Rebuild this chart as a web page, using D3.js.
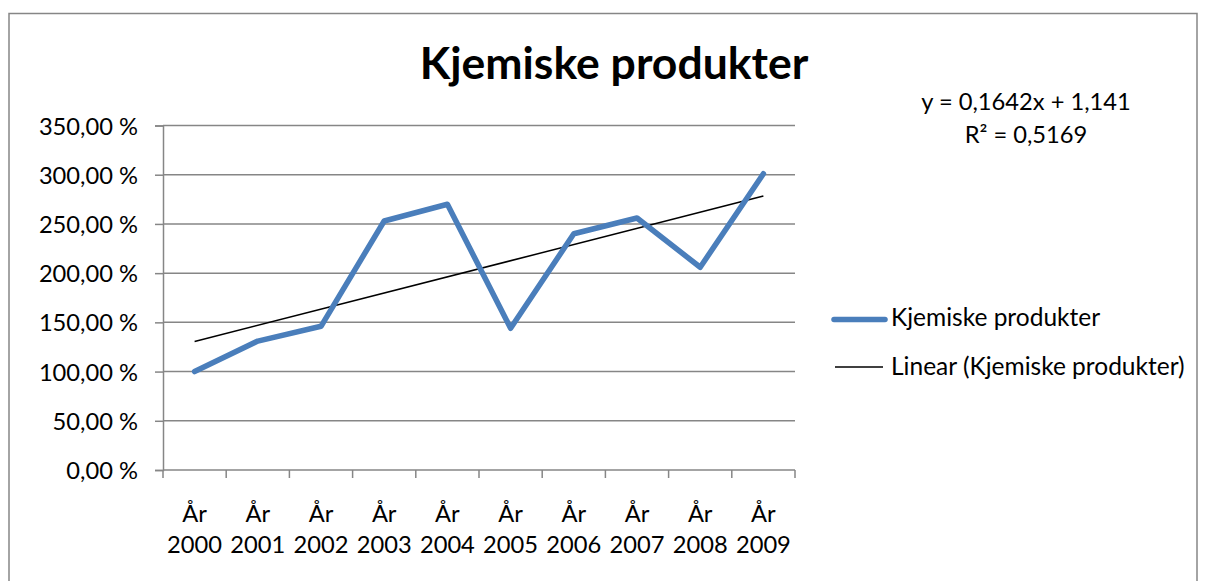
<!DOCTYPE html>
<html>
<head>
<meta charset="utf-8">
<script src="https://cdn.jsdelivr.net/npm/d3@7"></script>
<style>
  body { margin: 0; background: #fff; }
  text { font-family: Lato, "Open Sans", sans-serif; fill: #000; }
</style>
</head>
<body>
<svg id="chart"></svg>
<script>
const width = 1206;
const height = 581;

// data
const years = ['2000', '2001', '2002', '2003', '2004', '2005', '2006', '2007', '2008', '2009'];
const values = [1.00, 1.31, 1.46, 2.53, 2.70, 1.44, 2.40, 2.56, 2.06, 3.01];
const yTicks = [0, 0.5, 1, 1.5, 2, 2.5, 3, 3.5];
const trendSlope = 0.1642;
const trendIntercept = 1.141;
const trendR2 = 0.5169;
const seriesName = 'Kjemiske produkter';

const plot = { left: 163, right: 795, top: 125.5, bottom: 470 };
const fontSize = 23.7;

const svg = d3.select('svg#chart').attr('width', width).attr('height', height);

// outer chart border
svg.append('rect')
    .attr('x', 9).attr('y', 13.5)
    .attr('width', 1188).attr('height', 600)
    .attr('fill', 'none')
    .attr('stroke', '#868686')
    .attr('stroke-width', 1.5);

const x = d3.scaleBand().domain(years).range([plot.left, plot.right]);
const y = d3.scaleLinear().domain([0, 3.5]).range([plot.bottom, plot.top]);

const fmt = v => d3.format('.2f')(v * 100).replace('.', ',') + ' %';

// y axis
const yAxis = svg.append('g')
    .attr('transform', 'translate(' + plot.left + ',0)')
    .call(d3.axisLeft(y).tickValues(yTicks).tickSize(8).tickPadding(10).tickFormat(fmt));
yAxis.select('.domain').attr('stroke', '#868686').attr('stroke-width', 1.5);
yAxis.selectAll('.tick line').attr('stroke', '#868686').attr('stroke-width', 1.5);
yAxis.selectAll('.tick text')
    .attr('font-size', fontSize)
    .attr('font-family', 'Lato, sans-serif')
    .attr('dx', -7)
    .attr('dy', '0.36em')
    .attr('fill', '#000');

// gridlines
svg.append('g').selectAll('line')
    .data(yTicks.filter(d => d > 0))
    .join('line')
    .attr('x1', plot.left).attr('x2', plot.right)
    .attr('y1', d => y(d)).attr('y2', d => y(d))
    .attr('stroke', '#868686')
    .attr('stroke-width', 1.5);

// x axis
svg.append('line')
    .attr('x1', plot.left).attr('x2', plot.right)
    .attr('y1', plot.bottom).attr('y2', plot.bottom)
    .attr('stroke', '#868686').attr('stroke-width', 1.5);

const tickXs = years.map(d => x(d)).concat([plot.right]);
svg.append('g').selectAll('line')
    .data(tickXs)
    .join('line')
    .attr('x1', d => d).attr('x2', d => d)
    .attr('y1', plot.bottom).attr('y2', plot.bottom + 8)
    .attr('stroke', '#868686').attr('stroke-width', 1.5);

const cx = d => x(d) + x.bandwidth() / 2;

const xLabels = svg.append('g').selectAll('text')
    .data(years)
    .join('text')
    .attr('text-anchor', 'middle')
    .attr('font-size', fontSize);
xLabels.append('tspan')
    .attr('x', d => cx(d))
    .attr('y', 522)
    .text('År');
xLabels.append('tspan')
    .attr('x', d => cx(d))
    .attr('y', 553)
    .text(d => d);

// trendline
const trendPts = [years[0], years[years.length - 1]].map(d => ({
    year: d,
    v: trendSlope * (years.indexOf(d) + 1) + trendIntercept
}));
svg.append('path')
    .datum(trendPts)
    .attr('fill', 'none')
    .attr('stroke', '#000')
    .attr('stroke-width', 1.5)
    .attr('d', d3.line().x(d => cx(d.year)).y(d => y(d.v)));

// series line
svg.append('path')
    .datum(values)
    .attr('fill', 'none')
    .attr('stroke', '#4a7ebb')
    .attr('stroke-width', 5.5)
    .attr('stroke-linejoin', 'round')
    .attr('stroke-linecap', 'round')
    .attr('d', d3.line().x((d, i) => cx(years[i])).y(d => y(d)));

// title
svg.append('text')
    .attr('x', 614).attr('y', 79)
    .attr('text-anchor', 'middle')
    .attr('font-size', 44.5)
    .attr('font-weight', 'bold')
    .text(seriesName);

// equation
const eq = svg.append('g').attr('font-size', fontSize).attr('text-anchor', 'middle');
eq.append('text').attr('x', 1026).attr('y', 110)
    .text('y = ' + String(trendSlope).replace('.', ',') + 'x + ' + String(trendIntercept).replace('.', ','));
eq.append('text').attr('x', 1026).attr('y', 143)
    .text('R² = ' + String(trendR2).replace('.', ','));

// legend
const legend = [
    { name: seriesName, color: '#4a7ebb', w: 5.5, y: 319.5, ty: 326 },
    { name: 'Linear (' + seriesName + ')', color: '#000', w: 1.5, y: 367, ty: 375 }
];
const lg = svg.append('g').selectAll('g').data(legend).join('g');
lg.append('line')
    .attr('x1', d => d.w > 2 ? 834 : 835)
    .attr('x2', d => d.w > 2 ? 885 : 883)
    .attr('y1', d => d.y).attr('y2', d => d.y)
    .attr('stroke', d => d.color)
    .attr('stroke-width', d => d.w)
    .attr('stroke-linecap', d => d.w > 2 ? 'round' : 'butt');
lg.append('text')
    .attr('x', 891).attr('y', d => d.ty)
    .attr('font-size', 24.5)
    .text(d => d.name);
</script>
</body>
</html>
